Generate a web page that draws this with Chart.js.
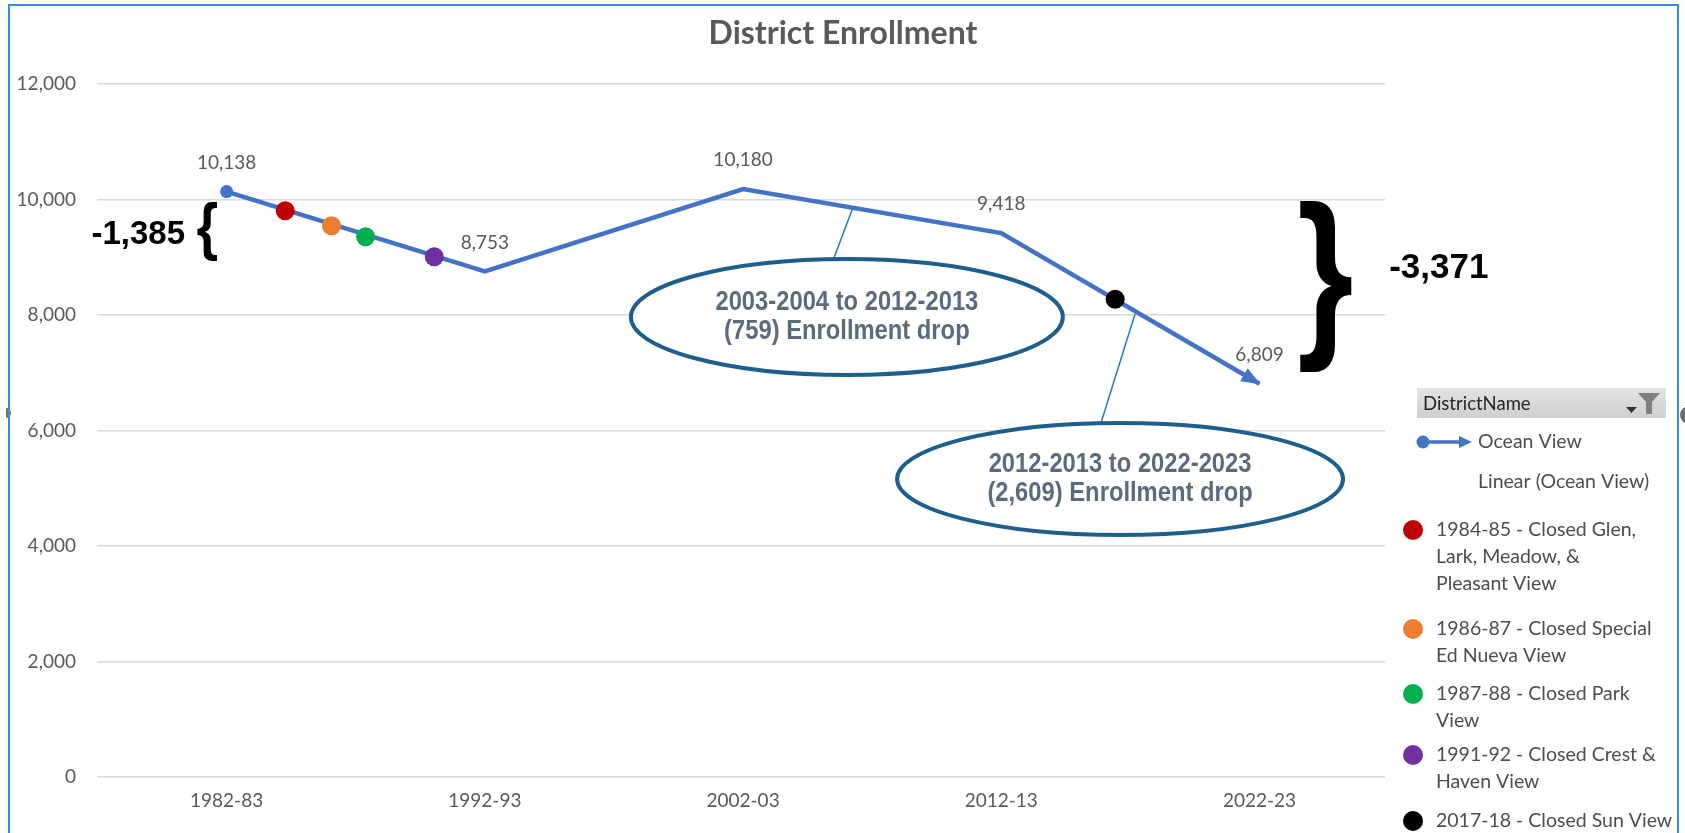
<!DOCTYPE html>
<html>
<head>
<meta charset="utf-8">
<script src="https://cdn.jsdelivr.net/npm/chart.js@4.4.1/dist/chart.umd.min.js"></script>
<style>
html,body{margin:0;padding:0;background:#fff;overflow:hidden}
canvas{display:block}
</style>
</head>
<body>
<canvas id="c" width="1685" height="833"></canvas>
<script>
// ---------- data ----------
const categories = ['1982-83', '1992-93', '2002-03', '2012-13', '2022-23'];
const startYears = [1982, 1992, 2002, 2012, 2022];
const enrollment = [10138, 8753, 10180, 9418, 6809];

const closureLabels = [
  ['1984-85 - Closed Glen,', 'Lark, Meadow, &', 'Pleasant View'],
  ['1986-87 - Closed Special', 'Ed Nueva View'],
  ['1987-88 - Closed Park', 'View'],
  ['1991-92 - Closed Crest &', 'Haven View'],
  ['2017-18 - Closed Sun View']
];
const closureYears = [1984.27, 1986.06, 1987.38, 1990.04, 2016.41];
const closureEnrollment = [9806, 9546, 9356, 9009, 8272];
const closureColors = ['#C00000', '#ED7D31', '#00B050', '#7030A0', '#000000'];

const seriesName = 'Ocean View';
const trendName = 'Linear (Ocean View)';
const legendTitle = 'DistrictName';
const chartTitle = 'District Enrollment';

const calloutTexts = [
  ['2003-2004 to 2012-2013', '(759) Enrollment drop'],
  ['2012-2013 to 2022-2023', '(2,609) Enrollment drop']
];
const braceTexts = ['-1,385', '-3,371'];

// ---------- helpers ----------
const FONT = 'Lato, "Open Sans", sans-serif';
const ARIAL = '"Liberation Sans", Arial, sans-serif';
const fmt = v => Number(v).toLocaleString('en-US');

function P(chart, xv, yv) {
  return [chart.scales.x.getPixelForValue(xv), chart.scales.y.getPixelForValue(yv)];
}

function drawBrace(ctx, ch, cx, cy, w, h) {
  ctx.save();
  ctx.font = 'bold 100px ' + ARIAL;
  const m = ctx.measureText(ch);
  const bw = m.actualBoundingBoxLeft + m.actualBoundingBoxRight;
  const bh = m.actualBoundingBoxAscent + m.actualBoundingBoxDescent;
  ctx.translate(cx, cy);
  ctx.scale(w / bw, h / bh);
  ctx.fillStyle = '#000';
  ctx.textAlign = 'left';
  ctx.textBaseline = 'alphabetic';
  const ox = -bw / 2 + m.actualBoundingBoxLeft;
  const oy = (m.actualBoundingBoxAscent - m.actualBoundingBoxDescent) / 2;
  ctx.fillText(ch, ox, oy);
  ctx.restore();
}

function drawCallout(ctx, cx, cy, rx, ry, lines) {
  ctx.save();
  ctx.beginPath();
  ctx.ellipse(cx, cy, rx, ry, 0, 0, Math.PI * 2);
  ctx.fillStyle = '#fff';
  ctx.fill();
  ctx.lineWidth = 4;
  ctx.strokeStyle = '#1E5E8C';
  ctx.stroke();
  ctx.fillStyle = '#5B6A7E';
  ctx.font = 'bold 27px ' + ARIAL;
  ctx.textAlign = 'center';
  ctx.textBaseline = 'middle';
  const offs = [-14, 15];
  lines.forEach((t, i) => {
    ctx.save();
    ctx.translate(cx, cy + offs[i]);
    ctx.scale(0.88, 1);
    ctx.fillText(t, 0, 0);
    ctx.restore();
  });
  ctx.restore();
}

function drawLeader(ctx, a, b) {
  ctx.save();
  ctx.strokeStyle = '#1F78C8';
  ctx.lineWidth = 1.5;
  ctx.beginPath();
  ctx.moveTo(a[0], a[1]);
  ctx.lineTo(b[0], b[1]);
  ctx.stroke();
  ctx.restore();
}

// ---------- plugin ----------
const decor = {
  id: 'decor',
  beforeDraw(chart) {
    const ctx = chart.ctx;
    ctx.save();
    ctx.fillStyle = '#fff';
    ctx.fillRect(0, 0, chart.width, chart.height);
    // title
    ctx.fillStyle = '#595959';
    ctx.font = 'bold 32px ' + FONT;
    ctx.textAlign = 'center';
    ctx.textBaseline = 'middle';
    ctx.fillText(chartTitle, 843, 34);
    ctx.restore();
  },
  afterDatasetsDraw(chart) {
    const ctx = chart.ctx;
    const meta = chart.getDatasetMeta(1);
    const pts = meta.data;

    // arrow head at the end of the series
    const p1 = pts[pts.length - 2], p2 = pts[pts.length - 1];
    const ang = Math.atan2(p2.y - p1.y, p2.x - p1.x);
    const L = 18, HW = 7.5;
    ctx.save();
    ctx.translate(p2.x, p2.y);
    ctx.rotate(ang);
    ctx.fillStyle = '#4472C4';
    ctx.beginPath();
    ctx.moveTo(1, 0);
    ctx.lineTo(-L, -HW);
    ctx.lineTo(-L, HW);
    ctx.closePath();
    ctx.fill();
    ctx.restore();

    // data labels
    ctx.save();
    ctx.font = '19px ' + FONT;
    ctx.fillStyle = '#595959';
    ctx.textAlign = 'center';
    ctx.textBaseline = 'middle';
    pts.forEach((p, i) => ctx.fillText(fmt(enrollment[i]), p.x, p.y - 29));
    ctx.restore();

    // leaders + callouts
    drawLeader(ctx, P(chart, 2006.22, 9818), P(chart, 2005.49, 8952));
    drawLeader(ctx, P(chart, 2017.18, 8017), P(chart, 2015.86, 6130));
    const e1 = P(chart, 2006.02, 7965);
    drawCallout(ctx, e1[0], e1[1], 216, 58, calloutTexts[0]);
    const e2 = P(chart, 2016.60, 5160);
    drawCallout(ctx, e2[0], e2[1], 223, 56, calloutTexts[1]);

    // braces
    const b1 = P(chart, 1981.24, 9455);
    drawBrace(ctx, '{', b1[0], b1[1], 20, 60);
    const b2 = P(chart, 2024.58, 8502);
    drawBrace(ctx, '}', b2[0], b2[1], 52, 172);
    ctx.save();
    ctx.fillStyle = '#000';
    ctx.textBaseline = 'middle';
    const t1 = P(chart, 1980.39, 9385);
    ctx.font = 'bold 33px ' + ARIAL;
    ctx.textAlign = 'right';
    ctx.fillText(braceTexts[0], t1[0], t1[1]);
    const t2 = P(chart, 2027.02, 8814);
    ctx.font = 'bold 35px ' + ARIAL;
    ctx.textAlign = 'left';
    ctx.fillText(braceTexts[1], t2[0], t2[1]);
    ctx.restore();
  },
  afterDraw(chart) {
    const ctx = chart.ctx;
    // ----- legend panel -----
    ctx.save();
    const g = ctx.createLinearGradient(0, 388, 0, 418);
    g.addColorStop(0, '#E3E3E3');
    g.addColorStop(1, '#CFCFCF');
    ctx.fillStyle = g;
    ctx.fillRect(1417, 388, 249, 30);
    ctx.fillStyle = '#262626';
    ctx.font = '18.5px ' + FONT;
    ctx.textAlign = 'left';
    ctx.textBaseline = 'middle';
    ctx.fillText(legendTitle, 1423, 404);
    // dropdown + filter icon
    ctx.fillStyle = '#333';
    ctx.beginPath();
    ctx.moveTo(1626, 407); ctx.lineTo(1637, 407); ctx.lineTo(1631.5, 413); ctx.closePath(); ctx.fill();
    ctx.fillStyle = '#7F7F7F';
    ctx.beginPath();
    ctx.moveTo(1638, 393); ctx.lineTo(1660, 393); ctx.lineTo(1652, 402);
    ctx.lineTo(1652, 414); ctx.lineTo(1646, 414); ctx.lineTo(1646, 402); ctx.closePath(); ctx.fill();

    // Ocean View icon
    ctx.strokeStyle = '#4472C4';
    ctx.fillStyle = '#4472C4';
    ctx.lineWidth = 3.5;
    ctx.beginPath(); ctx.moveTo(1423, 442); ctx.lineTo(1462, 442); ctx.stroke();
    ctx.beginPath(); ctx.arc(1423, 442, 6.5, 0, Math.PI * 2); ctx.fill();
    ctx.beginPath(); ctx.moveTo(1472, 442); ctx.lineTo(1459, 436); ctx.lineTo(1459, 448); ctx.closePath(); ctx.fill();

    ctx.fillStyle = '#4D4D4D';
    ctx.font = '19.5px ' + FONT;
    ctx.fillText(seriesName, 1478, 442);
    ctx.fillText(trendName, 1478, 482);

    const firstY = [530, 629, 694, 755, 821];
    closureLabels.forEach((lines, i) => {
      ctx.fillStyle = closureColors[i];
      ctx.beginPath(); ctx.arc(1413, firstY[i], 10, 0, Math.PI * 2); ctx.fill();
      ctx.fillStyle = '#4D4D4D';
      lines.forEach((t, j) => ctx.fillText(t, 1436, firstY[i] + j * 27));
    });

    // ----- outer border and handles -----
    ctx.fillStyle = '#6E6E6E';
    ctx.beginPath(); ctx.arc(1689, 415, 9, 0, Math.PI * 2); ctx.fill();
    ctx.beginPath(); ctx.arc(6, 413, 5, -Math.PI / 2, Math.PI / 2); ctx.fill();
    ctx.strokeStyle = '#3A8DD8';
    ctx.lineWidth = 2;
    ctx.strokeRect(9, 5, 1669, 900);
    ctx.restore();
  }
};

// ---------- chart ----------
new Chart(document.getElementById('c'), {
  type: 'line',
  data: {
    datasets: [
      {
        label: 'Closures',
        type: 'scatter',
        order: 0,
        data: closureYears.map((x, i) => ({ x, y: closureEnrollment[i] })),
        showLine: false,
        pointRadius: 9.5,
        pointBorderWidth: 0,
        pointBackgroundColor: closureColors,
        pointBorderColor: closureColors
      },
      {
        label: seriesName,
        order: 1,
        data: startYears.map((x, i) => ({ x, y: enrollment[i] })),
        borderColor: '#4472C4',
        borderWidth: 4.5,
        tension: 0,
        fill: false,
        borderCapStyle: 'butt',
        borderJoinStyle: 'miter',
        pointRadius: enrollment.map((v, i) => i === 0 ? 6.5 : 0),
        pointBorderWidth: 0,
        pointBackgroundColor: '#4472C4'
      }
    ]
  },
  options: {
    responsive: false,
    animation: false,
    events: [],
    layout: { padding: { left: 0, right: 300, top: 84, bottom: 0 } },
    plugins: {
      legend: { display: false },
      tooltip: { enabled: false },
      title: { display: false }
    },
    scales: {
      x: {
        type: 'linear',
        min: 1976.98,
        max: 2026.86,
        afterBuildTicks: axis => { axis.ticks = startYears.map(v => ({ value: v })); },
        afterFit: s => { s.height = 56; },
        grid: { display: false, drawTicks: false },
        border: { display: false },
        ticks: {
          autoSkip: false,
          maxRotation: 0,
          padding: 12,
          color: '#595959',
          font: { family: FONT, size: 19 },
          callback: v => { const i = startYears.indexOf(v); return i >= 0 ? categories[i] : ''; }
        }
      },
      y: {
        min: 0,
        max: 12000,
        afterFit: s => { s.width = 97; },
        grid: { color: '#D9D9D9', lineWidth: 1.5, drawTicks: false },
        border: { display: false },
        ticks: {
          stepSize: 2000,
          padding: 21,
          color: '#595959',
          font: { family: FONT, size: 19 },
          callback: v => fmt(v)
        }
      }
    }
  },
  plugins: [decor]
});
</script>
</body>
</html>
